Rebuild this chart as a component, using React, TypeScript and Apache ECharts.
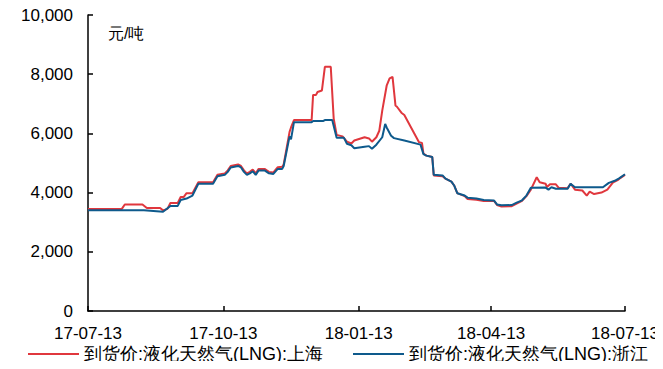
import React, { useEffect, useRef } from "react";
import * as echarts from "echarts";

const seriesNames = ["到货价:液化天然气(LNG):上海", "到货价:液化天然气(LNG):浙江"];
const unitLabel = "元/吨";
const xTickDates = ["2017-07-13", "2017-10-13", "2018-01-13", "2018-04-13", "2018-07-13"];
const yTicks = [0, 2000, 4000, 6000, 8000, 10000];

const shanghaiDates = [
  "2017-07-13", "2017-08-05", "2017-08-07", "2017-08-19", "2017-08-22", "2017-08-31", "2017-09-02", "2017-09-05",
  "2017-09-07", "2017-09-12", "2017-09-14", "2017-09-16", "2017-09-18", "2017-09-22", "2017-09-26", "2017-10-06",
  "2017-10-09", "2017-10-14", "2017-10-16", "2017-10-18", "2017-10-23", "2017-10-25", "2017-10-27", "2017-10-29",
  "2017-10-31", "2017-11-02", "2017-11-04", "2017-11-06", "2017-11-10", "2017-11-13", "2017-11-16", "2017-11-19",
  "2017-11-22", "2017-11-23", "2017-11-25", "2017-11-27", "2017-11-28", "2017-11-30", "2017-12-12", "2017-12-13",
  "2017-12-15", "2017-12-16", "2017-12-19", "2017-12-21", "2017-12-25", "2017-12-27", "2017-12-29", "2018-01-02",
  "2018-01-05", "2018-01-08", "2018-01-10", "2018-01-17", "2018-01-20", "2018-01-22", "2018-01-25", "2018-01-27",
  "2018-01-29", "2018-02-01", "2018-02-03", "2018-02-05", "2018-02-07", "2018-02-08", "2018-02-11", "2018-02-13",
  "2018-02-23", "2018-02-25", "2018-02-26", "2018-02-28", "2018-03-04", "2018-03-05", "2018-03-11", "2018-03-13",
  "2018-03-17", "2018-03-19", "2018-03-21", "2018-03-26", "2018-03-28", "2018-04-03", "2018-04-08", "2018-04-15",
  "2018-04-17", "2018-04-20", "2018-04-27", "2018-04-30", "2018-05-04", "2018-05-07", "2018-05-10", "2018-05-14",
  "2018-05-16", "2018-05-20", "2018-05-21", "2018-05-23", "2018-05-27", "2018-05-29", "2018-06-04", "2018-06-06",
  "2018-06-09", "2018-06-14", "2018-06-17", "2018-06-19", "2018-06-22", "2018-06-27", "2018-07-01", "2018-07-05",
  "2018-07-08", "2018-07-10", "2018-07-13",
];
const shanghaiValues = [
  3450, 3450, 3600, 3600, 3480, 3480, 3400, 3450,
  3650, 3650, 3850, 3850, 3980, 3980, 4350, 4350,
  4600, 4650, 4750, 4900, 4950, 4900, 4750, 4650,
  4700, 4780, 4650, 4800, 4800, 4700, 4680, 4860,
  4870, 4950, 5500, 6050, 6200, 6450, 6450, 7300,
  7300, 7400, 7450, 8250, 8250, 6500, 5950, 5900,
  5720, 5660, 5760, 5870, 5830, 5720, 5870, 6090,
  6770, 7610, 7860, 7910, 6940, 6900, 6700, 6620,
  5700, 5680, 5320, 5250, 5200, 4580, 4550, 4470,
  4370, 4230, 3980, 3880, 3780, 3760, 3720, 3720,
  3580, 3530, 3540, 3620, 3720, 3880, 4100, 4520,
  4350, 4300, 4190, 4280, 4280, 4160, 4150, 4300,
  4100, 4070, 3900, 4030, 3950, 4000, 4100, 4350,
  4420, 4500, 4600,
];

const zhejiangDates = [
  "2017-07-13", "2017-08-20", "2017-09-02", "2017-09-07", "2017-09-12", "2017-09-14", "2017-09-18", "2017-09-22",
  "2017-09-26", "2017-10-06", "2017-10-09", "2017-10-14", "2017-10-16", "2017-10-18", "2017-10-23", "2017-10-25",
  "2017-10-27", "2017-10-29", "2017-10-31", "2017-11-02", "2017-11-04", "2017-11-06", "2017-11-10", "2017-11-13",
  "2017-11-16", "2017-11-19", "2017-11-22", "2017-11-23", "2017-11-27", "2017-11-28", "2017-11-30", "2017-12-12",
  "2017-12-13", "2017-12-20", "2017-12-21", "2017-12-26", "2017-12-29", "2018-01-03", "2018-01-05", "2018-01-08",
  "2018-01-10", "2018-01-17", "2018-01-20", "2018-01-22", "2018-01-25", "2018-01-29", "2018-01-31", "2018-02-01",
  "2018-02-04", "2018-02-06", "2018-02-13", "2018-02-24", "2018-02-26", "2018-02-28", "2018-03-04", "2018-03-05",
  "2018-03-11", "2018-03-13", "2018-03-17", "2018-03-19", "2018-03-21", "2018-03-26", "2018-03-28", "2018-04-03",
  "2018-04-08", "2018-04-15", "2018-04-17", "2018-04-20", "2018-04-27", "2018-04-30", "2018-05-04", "2018-05-07",
  "2018-05-10", "2018-05-20", "2018-05-22", "2018-05-24", "2018-05-27", "2018-06-04", "2018-06-06", "2018-06-09",
  "2018-06-28", "2018-07-02", "2018-07-06", "2018-07-09", "2018-07-13",
];
const zhejiangValues = [
  3400, 3400, 3350, 3550, 3550, 3750, 3800, 3900,
  4300, 4300, 4550, 4600, 4700, 4850, 4900, 4850,
  4700, 4600, 4650, 4720, 4600, 4750, 4750, 4650,
  4630, 4800, 4800, 4900, 5900, 5800, 6380, 6380,
  6420, 6420, 6450, 6450, 5850, 5850, 5650, 5600,
  5500, 5550, 5570, 5480, 5620, 5870, 6320, 6200,
  5920, 5840, 5760, 5620, 5300, 5250, 5200, 4600,
  4580, 4470, 4370, 4230, 3980, 3900, 3830, 3800,
  3750, 3730, 3600, 3570, 3580, 3650, 3740, 3900,
  4160, 4170, 4100, 4180, 4130, 4130, 4300, 4180,
  4180, 4330, 4400, 4480, 4620,
];

const seriesColors = ["#E0373D", "#0E5A8C"];

function toTs(s: string) {
  const [y, m, d] = s.split("-").map(Number);
  return Date.UTC(y, m - 1, d);
}
function pad(n: number) {
  return n < 10 ? "0" + n : String(n);
}

export default function App() {
  const ref = useRef<HTMLDivElement>(null);
  useEffect(() => {
    if (!ref.current) return;
    const chart = echarts.init(ref.current, undefined, { renderer: "svg" });
    const font = "Liberation Sans, Arial, sans-serif";
    const shData = shanghaiDates.map((d, i) => [toTs(d), shanghaiValues[i]]);
    const zjData = zhejiangDates.map((d, i) => [toTs(d), zhejiangValues[i]]);
    const xTicks = xTickDates.map(toTs);
    chart.setOption({
      animation: false,
      backgroundColor: "#ffffff",
      grid: { left: 88, right: 38, top: 15, bottom: 58, containLabel: false },
      legend: {
        left: 23,
        top: 340,
        padding: 5,
        itemGap: 30,
        itemWidth: 51,
        itemHeight: 2,
        icon: "rect",
        textStyle: { fontFamily: font, fontSize: 18, color: "#000" },
        data: seriesNames,
      },
      graphic: [
        {
          type: "text",
          left: 108,
          top: 25,
          style: { text: unitLabel, fontFamily: font, fontSize: 16, fill: "#000" },
        },
      ],
      xAxis: {
        type: "value",
        min: xTicks[0],
        max: xTicks[xTicks.length - 1],
        axisLine: { show: true, lineStyle: { color: "#000", width: 1.5 } },
        axisTick: { show: true, inside: true, length: 5, customValues: xTicks, lineStyle: { color: "#000", width: 1.5 } },
        axisLabel: {
          customValues: xTicks,
          margin: 14,
          fontFamily: font,
          fontSize: 17,
          color: "#000",
          formatter: (v: number) => {
            const d = new Date(v);
            return String(d.getUTCFullYear()).slice(2) + "-" + pad(d.getUTCMonth() + 1) + "-" + pad(d.getUTCDate());
          },
        },
        splitLine: { show: false },
      },
      yAxis: {
        type: "value",
        min: yTicks[0],
        max: yTicks[yTicks.length - 1],
        interval: 2000,
        axisLine: { show: true, lineStyle: { color: "#000", width: 1.5 } },
        axisTick: { show: true, inside: true, length: 5, lineStyle: { color: "#000", width: 1.5 } },
        axisLabel: {
          margin: 15,
          fontFamily: font,
          fontSize: 17,
          color: "#000",
          formatter: (v: number) => v.toLocaleString("en-US"),
        },
        splitLine: { show: false },
      },
      series: [
        {
          name: seriesNames[0],
          type: "line",
          data: shData,
          symbol: "none",
          lineStyle: { color: seriesColors[0], width: 2 },
          itemStyle: { color: seriesColors[0] },
        },
        {
          name: seriesNames[1],
          type: "line",
          data: zjData,
          symbol: "none",
          lineStyle: { color: seriesColors[1], width: 2 },
          itemStyle: { color: seriesColors[1] },
        },
      ],
    });
    return () => chart.dispose();
  }, []);
  return <div ref={ref} style={{ width: 663, height: 369, margin: -8 }} />;
}
